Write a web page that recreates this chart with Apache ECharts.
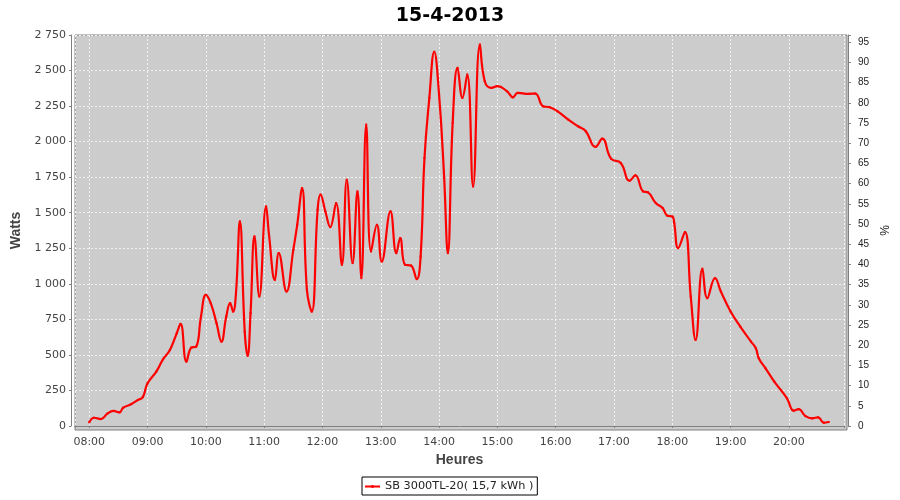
<!DOCTYPE html>
<html><head><meta charset="utf-8">
<script src="https://cdn.jsdelivr.net/npm/echarts@6/dist/echarts.min.js"></script>
<style>html,body{margin:0;padding:0;background:#fff}#c{width:900px;height:500px}</style>
</head><body><div id="c"></div>
<script>
const chartTitle = '15-4-2013';
const seriesName = 'SB 3000TL-20( 15,7 kWh )';
const xName = 'Heures';
const yName = 'Watts';
const y2Name = '%';
const times = ['08:00','08:05','08:12','08:19','08:25','08:31','08:35','08:43','08:50','08:55',
 '09:00','09:09','09:16','09:23','09:30','09:34','09:40','09:45','09:50','09:55',
 '10:00','10:05','10:11','10:16','10:21','10:25','10:28','10:31','10:35','10:40','10:43','10:46','10:50','10:55',
 '11:02','11:05','11:11','11:15','11:23','11:30','11:34','11:39','11:44','11:49','11:55','11:58',
 '12:03','12:08','12:14','12:20','12:25','12:31','12:36','12:40','12:45','12:50','12:56',
 '13:01','13:10','13:16','13:20','13:25','13:31','13:37','13:41','13:45','13:50','13:55',
 '14:00','14:05','14:09','14:14','14:19','14:24','14:29','14:35','14:42','14:47','14:54',
 '15:00','15:10','15:16','15:21','15:32','15:39','15:47','15:54',
 '16:02','16:13','16:23','16:31','16:41','16:48','16:57',
 '17:07','17:16','17:22','17:30','17:35','17:43','17:50','17:55',
 '18:00','18:02','18:06','18:13','18:19','18:24','18:31','18:36','18:44','18:50',
 '19:00','19:10','19:21','19:26','19:29','19:36','19:45','19:58',
 '20:05','20:10','20:17','20:24','20:30','20:36','20:41'];
const watts = [26,58,49,89,106,96,129,153,183,202,
 300,382,470,535,652,718,453,551,558,770,
 922,864,723,594,770,864,805,934,1439,664,495,794,1333,911,
 1544,1345,1028,1216,946,1239,1415,1674,958,805,1521,1627,
 1509,1399,1568,1134,1732,1146,1650,1040,2120,1228,1415,
 1157,1509,1216,1322,1134,1129,1033,1192,1885,2308,2632,
 2331,1780,1216,2132,2519,2308,2472,1685,2683,2425,2378,
 2390,2354,2312,2343,2336,2338,2249,2242,
 2213,2155,2108,2073,1963,2021,1880,
 1850,1725,1763,1650,1643,1568,1533,1479,
 1474,1427,1251,1364,911,606,1106,899,1040,946,
 805,699,594,547,477,406,312,195,
 108,118,70,54,61,23,28];
const wattRange = [0, 2750, 250];
const pctRange = [0, 96.8, 5];
const timeRange = [7.7555, 20.945];

function toHours(s){const p=s.split(':');return +p[0]+(+p[1])/60;}
const data = times.map((t,i)=>[toHours(t), watts[i]]);
function isInt(v,step){const r=v/step;return Math.abs(r-Math.round(r))<1e-6;}
function pad(n){return (n<10?'0':'')+n;}

const FONT = 'DejaVu Sans';
const chart = echarts.init(document.getElementById('c'), null, {renderer:'canvas'});
chart.setOption({
  animation:false,
  backgroundColor:'#ffffff',
  title:{text:chartTitle,left:'center',top:2,textStyle:{fontFamily:FONT,fontSize:19,fontWeight:'bold',color:'#000'}},
  graphic:[{type:'rect',z:-10,shape:{x:75,y:35,width:772,height:395},style:{fill:'#cccccc',stroke:'#808080',lineWidth:1}}],
  grid:{left:75,right:53,top:35,bottom:74,containLabel:false},
  legend:{data:[seriesName],left:362,top:477,padding:[4,4,3,3],borderColor:'#000',borderWidth:1,
    itemWidth:15,itemHeight:12,icon:'path://M0,5L15,5L15,7L0,7Z M6.5,4.5L8.5,4.5L8.5,7.5L6.5,7.5Z',
    textStyle:{fontFamily:FONT,fontSize:11.3,color:'#222'}},
  xAxis:{type:'value',min:timeRange[0],max:timeRange[1],minInterval:1,maxInterval:1,splitNumber:13,
    offset:8,name:xName,nameLocation:'middle',nameGap:19,
    nameTextStyle:{fontFamily:'Liberation Sans',fontSize:14,fontWeight:'bold',color:'#444'},
    axisLine:{show:true,lineStyle:{color:'#808080'}},
    axisTick:{show:true,length:2,lineStyle:{color:'#808080'}},
    axisLabel:{margin:3,fontFamily:FONT,fontSize:11,color:'#444',
      formatter:v=>isInt(v,1)?pad(Math.round(v))+':00':''},
    splitLine:{show:true,lineStyle:{color:'#f2f2f2',type:[2,2],width:1}}},
  yAxis:[
   {type:'value',min:wattRange[0],max:wattRange[1],interval:wattRange[2],offset:4,
    name:yName,nameLocation:'middle',nameGap:46,
    nameTextStyle:{fontFamily:'Liberation Sans',fontSize:14,fontWeight:'bold',color:'#444'},
    axisLine:{show:true,lineStyle:{color:'#808080'}},
    axisTick:{show:true,length:2,lineStyle:{color:'#808080'}},
    axisLabel:{margin:5,fontFamily:FONT,fontSize:11,color:'#444',
      formatter:v=>String(v).replace(/\B(?=(\d{3})+(?!\d))/g,' ')},
    splitLine:{show:true,lineStyle:{color:'#f2f2f2',type:[2,2],width:1}}},
   {type:'value',position:'right',min:pctRange[0],max:pctRange[1],interval:pctRange[2],offset:4,
    name:y2Name,nameLocation:'middle',nameGap:21,nameRotate:90,
    nameTextStyle:{fontFamily:'Liberation Sans',fontSize:12,color:'#222'},
    axisLine:{show:true,lineStyle:{color:'#808080'}},
    axisTick:{show:true,length:3,lineStyle:{color:'#808080'}},
    axisLabel:{margin:10,fontFamily:'Liberation Sans',fontSize:10,color:'#222',
      formatter:v=>isInt(v,5)?String(Math.round(v)):''},
    splitLine:{show:false}}
  ],
  series:[{name:seriesName,type:'line',data:data,smooth:0.45,
    symbol:'rect',symbolSize:2,showSymbol:true,
    lineStyle:{color:'#ff0000',width:2.2},itemStyle:{color:'#ff0000'}}]
});
</script></body></html>
